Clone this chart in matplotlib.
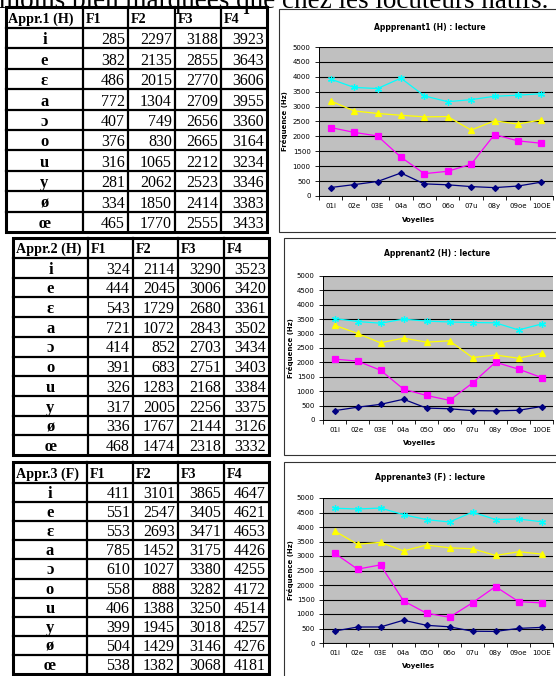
import numpy as np
import matplotlib
matplotlib.use("Agg")
import matplotlib.pyplot as plt
from matplotlib.patches import Rectangle

# donnees des tableaux / graphiques
vowels = ["i", "e", "ɛ", "a", "ɔ", "o", "u", "y", "ø", "œ"]
x_labels = ["01i", "02e", "03E", "04a", "05O", "06o", "07u", "08y", "09oe", "10OE"]
formants = ["F1", "F2", "F3", "F4"]

appr1_F1 = [285, 382, 486, 772, 407, 376, 316, 281, 334, 465]
appr1_F2 = [2297, 2135, 2015, 1304, 749, 830, 1065, 2062, 1850, 1770]
appr1_F3 = [3188, 2855, 2770, 2709, 2656, 2665, 2212, 2523, 2414, 2555]
appr1_F4 = [3923, 3643, 3606, 3955, 3360, 3164, 3234, 3346, 3383, 3433]

appr2_F1 = [324, 444, 543, 721, 414, 391, 326, 317, 336, 468]
appr2_F2 = [2114, 2045, 1729, 1072, 852, 683, 1283, 2005, 1767, 1474]
appr2_F3 = [3290, 3006, 2680, 2843, 2703, 2751, 2168, 2256, 2144, 2318]
appr2_F4 = [3523, 3420, 3361, 3502, 3434, 3403, 3384, 3375, 3126, 3332]

appr3_F1 = [411, 551, 553, 785, 610, 558, 406, 399, 504, 538]
appr3_F2 = [3101, 2547, 2693, 1452, 1027, 888, 1388, 1945, 1429, 1382]
appr3_F3 = [3865, 3405, 3471, 3175, 3380, 3282, 3250, 3018, 3146, 3068]
appr3_F4 = [4647, 4621, 4653, 4426, 4255, 4172, 4514, 4257, 4276, 4181]

table_titles = ["Appr.1 (H)", "Appr.2 (H)", "Appr.3 (F)"]
chart_titles = ["Appprenant1 (H) : lecture", "Apprenant2 (H) : lecture", "Apprenante3 (F) : lecture"]

colors = ["#000080", "#FF00FF", "#FFFF00", "#00FFFF"]
markers = ["D", "s", "^", (6, 2, 0)]
msizes = [3, 4, 4.5, 5]

W, H = 556, 676
SERIF = ["Liberation Serif", "DejaVu Serif"]

fig = plt.figure(figsize=(W / 100, H / 100), dpi=100)
fig.patch.set_facecolor("white")
bg = fig.add_axes([0, 0, 1, 1])
bg.set_xlim(0, W)
bg.set_ylim(H, 0)
bg.axis("off")


def px_axes(x0, y0, x1, y1):
    return fig.add_axes([x0 / W, 1 - y1 / H, (x1 - x0) / W, (y1 - y0) / H])


# ligne de texte coupee en haut (comme dans l'original)
bg.text(548, 8, "moins bien marquées que chez les locuteurs natifs.", ha="right",
        va="baseline", fontsize=19.5, family=SERIF)


def draw_table(cols, top, head_bot, bottom, title, data):
    rows = [top, head_bot] + list(np.linspace(head_bot, bottom, 11)[1:])
    left, right = cols[0], cols[-1]
    bg.add_patch(Rectangle((left, top), right - left, bottom - top, fill=False, lw=2.2, ec="black"))
    for y in rows[1:-1]:
        bg.plot([left, right], [y, y], color="black", lw=1.6)
    for x in cols[1:-1]:
        bg.plot([x, x], [top, bottom], color="black", lw=1.6)
    bg.text(left + 2.5, head_bot - 5, title, ha="left", va="baseline", fontsize=10.2,
            fontweight="bold", family=SERIF)
    for j, f in enumerate(formants):
        bg.text(cols[j + 1] + 3, head_bot - 5, f, ha="left", va="baseline", fontsize=10.2,
                fontweight="bold", family=SERIF)
    for i, v in enumerate(vowels):
        yb = rows[i + 2] - 4
        bg.text((cols[0] + cols[1]) / 2, yb, v, ha="center", va="baseline", fontsize=12,
                fontweight="bold", family=SERIF)
        for j in range(4):
            bg.text(cols[j + 2] - 3, yb, str(data[j][i]), ha="right", va="baseline",
                    fontsize=11.5, family=SERIF)


def draw_chart(box, plot, title, title_xy, ylab_x, voy_xy, data):
    bx0, by0, bx1, by1 = box
    bg.add_patch(Rectangle((bx0, by0), bx1 - bx0, by1 - by0, fc="white", ec="#333333", lw=0.8))
    bg.text(title_xy[0], title_xy[1], title, ha="center", va="center", fontsize=5.5,
            fontweight="bold")
    bg.text(ylab_x, (plot[1] + plot[3]) / 2, "Fréquence (Hz)", rotation=90, ha="center",
            va="center", fontsize=5, fontweight="bold")
    bg.text(voy_xy[0], voy_xy[1], "Voyelles", ha="center", va="center", fontsize=5,
            fontweight="bold")
    ax = px_axes(*plot)
    ax.set_facecolor("#C0C0C0")
    x = np.arange(len(x_labels))
    for k in range(4):
        ax.plot(x, data[k], color=colors[k], lw=0.9, marker=markers[k], ms=msizes[k],
                mfc=colors[k], mec=colors[k], mew=0.9, zorder=3, clip_on=False)
    ax.set_xlim(-0.5, 9.5)
    ax.set_ylim(0, 5000)
    ax.set_yticks(np.arange(0, 5001, 500))
    ax.yaxis.grid(True, color="black", lw=0.8)
    ax.set_axisbelow(True)
    ax.set_xticks(np.arange(-0.5, 10, 1))
    ax.set_xticklabels([])
    ax.set_xticks(x, x_labels, minor=True)
    ax.tick_params(axis="x", which="major", length=3, width=0.6, direction="out")
    ax.tick_params(axis="x", which="minor", length=0, labelsize=5, pad=5)
    ax.tick_params(axis="y", length=3, width=0.6, labelsize=5, pad=3)
    for s in ["top", "right"]:
        ax.spines[s].set_visible(False)
    for s in ["left", "bottom"]:
        ax.spines[s].set_linewidth(0.7)
    return ax


# tableaux
draw_table([6, 83, 128, 175, 221, 267], 7, 28, 232, table_titles[0],
           [appr1_F1, appr1_F2, appr1_F3, appr1_F4])
draw_table([13, 88, 133, 178, 224, 269], 238, 258, 455, table_titles[1],
           [appr2_F1, appr2_F2, appr2_F3, appr2_F4])
draw_table([13, 87, 133, 178, 224, 269], 462, 483, 674, table_titles[2],
           [appr3_F1, appr3_F2, appr3_F3, appr3_F4])

# graphiques
draw_chart((279, 9, 562, 232), (319, 47, 553, 196), chart_titles[0], (430, 27), 285,
           (419, 220), [appr1_F1, appr1_F2, appr1_F3, appr1_F4])
draw_chart((284, 238, 562, 455), (323, 276, 553, 420), chart_titles[1], (437, 254), 291,
           (420, 443), [appr2_F1, appr2_F2, appr2_F3, appr2_F4])
draw_chart((284, 462, 562, 682), (323, 498, 553, 643), chart_titles[2], (430, 478), 291,
           (419, 666), [appr3_F1, appr3_F2, appr3_F3, appr3_F4])

fig.savefig("out.png", dpi=100)
